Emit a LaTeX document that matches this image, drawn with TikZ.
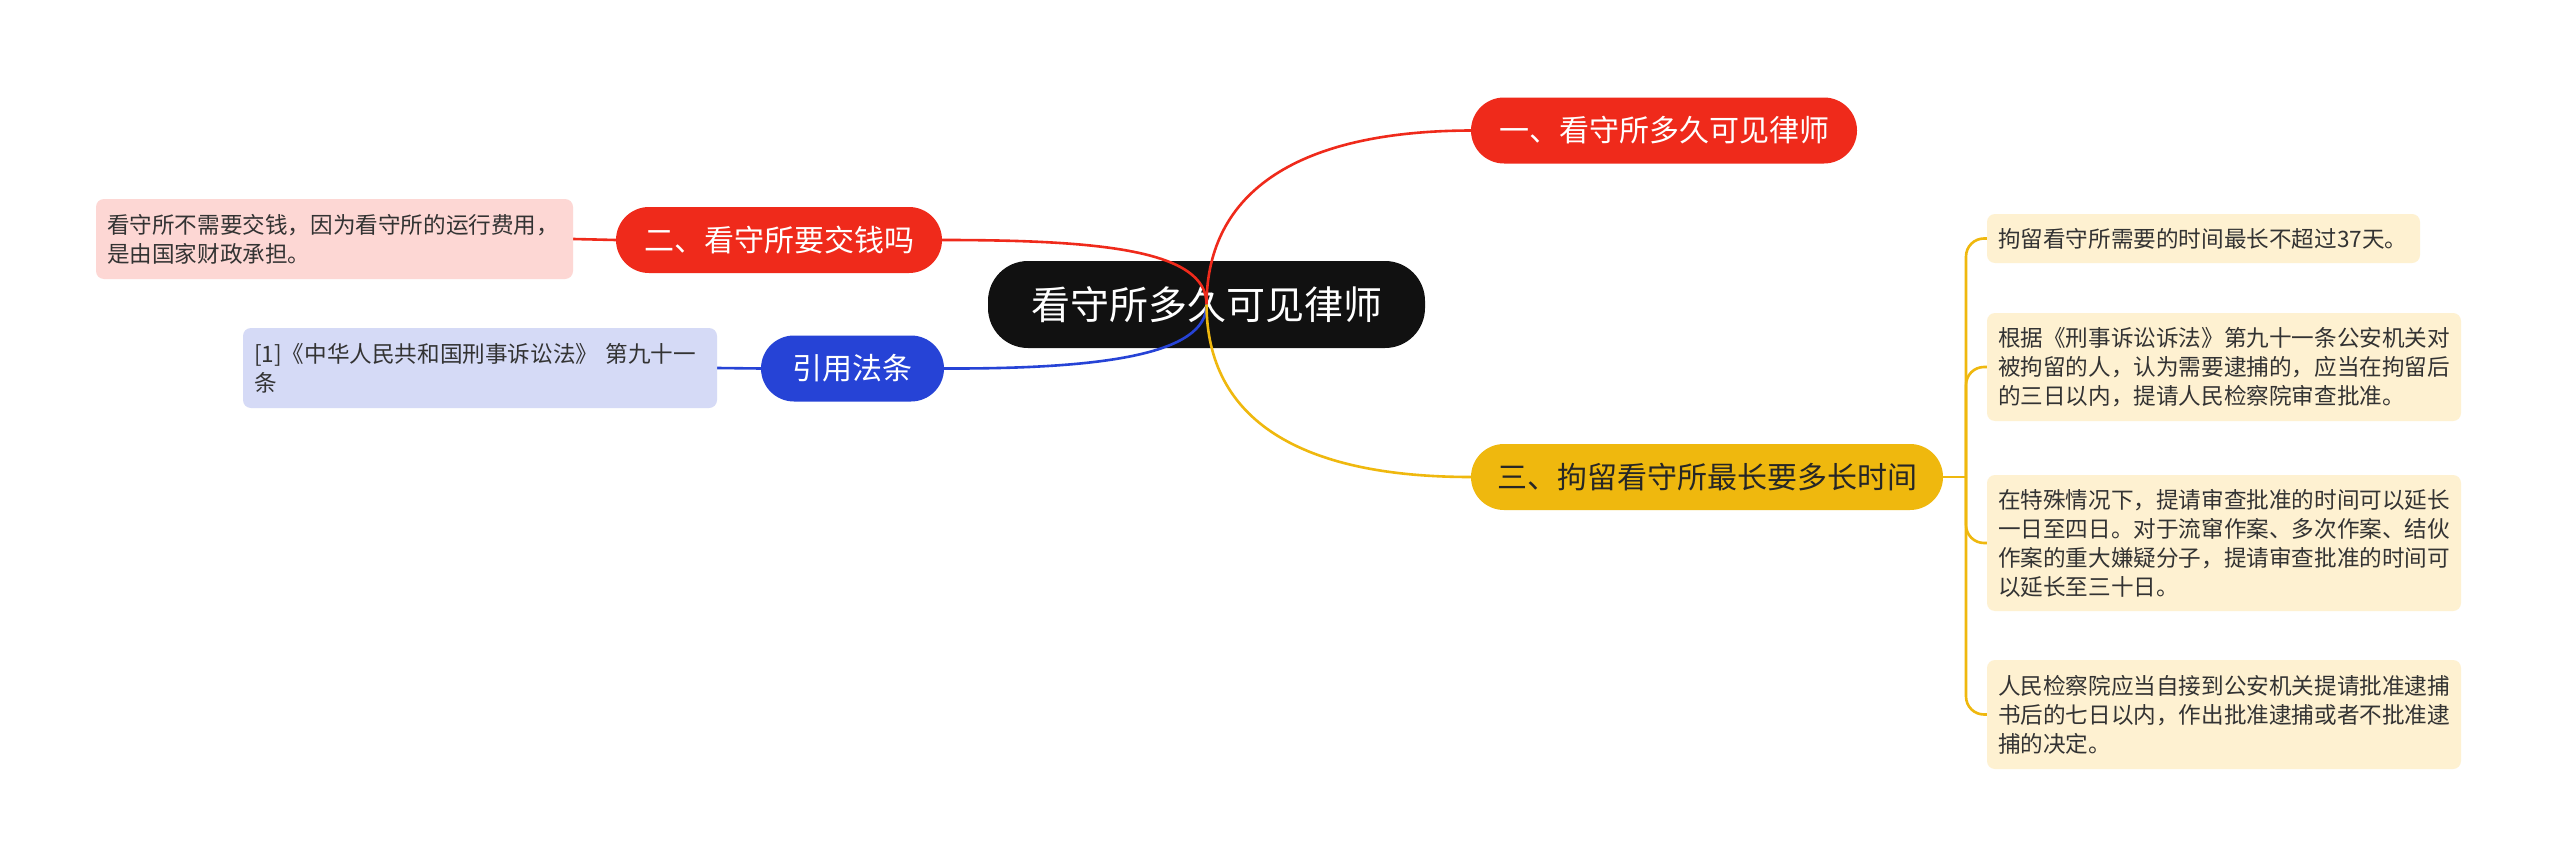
\documentclass[tikz,border=0pt]{standalone}
\usepackage{fontspec}
\setmainfont{Noto Sans CJK SC}
\definecolor{cred}{HTML}{EF2A1B}
\definecolor{cblue}{HTML}{2643D6}
\definecolor{cyel}{HTML}{EFB80E}
\definecolor{cpink}{HTML}{FDD7D4}
\definecolor{clav}{HTML}{D5DAF6}
\definecolor{ccream}{HTML}{FEF1D1}
\definecolor{ctext}{HTML}{333333}
\definecolor{cblack}{HTML}{111111}
\pgfdeclarelayer{bg}\pgfdeclarelayer{edges}
\pgfsetlayers{bg,edges,main}
\begin{document}
\begin{tikzpicture}[x=1pt,y=-1pt,
 root/.style={fill=cblack, text=white, rounded corners=40pt, minimum width=437pt, minimum height=87pt, font=\fontsize{39}{47}\selectfont, inner sep=0pt},
 branch/.style={rounded corners=33pt, minimum height=66pt, font=\fontsize{30}{36}\selectfont, inner sep=0pt},
 leaf/.style={rounded corners=8pt, align=left, font=\fontsize{22.6}{29}\selectfont, text=ctext, inner xsep=11pt, inner ysep=0pt},
 link/.style={line width=2.6pt}
]
\begin{pgfonlayer}{bg}
\fill[white] (0,0) rectangle (2560,867);
\node[root] (root) at (1206.5,304.5) {看守所多久可见律师};
\end{pgfonlayer}
\useasboundingbox (0,0) rectangle (2560,867);

\node[branch, fill=cred, text=white, minimum width=386pt] (b1) at (1664,130.5) {一、看守所多久可见律师};
\node[branch, fill=cred, text=white, minimum width=326pt] (b2) at (779,240) {二、看守所要交钱吗};
\node[branch, fill=cblue, text=white, minimum width=183pt] (b3) at (852.5,368.5) {引用法条};
\node[branch, fill=cyel, text=black!85, minimum width=472pt] (b4) at (1707,477) {三、拘留看守所最长要多长时间};

\node[leaf, fill=cpink, text width=455pt, minimum height=80pt] (l1) at (334.5,239) {看守所不需要交钱，因为看守所的运行费用，\\是由国家财政承担。};
\node[leaf, fill=clav, text width=452pt, minimum height=80pt] (l2) at (480,368) {[1]《中华人民共和国刑事诉讼法》 第九十一\\条};

\node[leaf, fill=ccream, text width=411pt, minimum height=49pt] (r1) at (2203.5,238.5) {拘留看守所需要的时间最长不超过37天。};
\node[leaf, fill=ccream, text width=452pt, minimum height=108pt] (r2) at (2224,367) {根据《刑事诉讼诉法》第九十一条公安机关对\\被拘留的人，认为需要逮捕的，应当在拘留后\\的三日以内，提请人民检察院审查批准。};
\node[leaf, fill=ccream, text width=452pt, minimum height=136pt] (r3) at (2224,543) {在特殊情况下，提请审查批准的时间可以延长\\一日至四日。对于流窜作案、多次作案、结伙\\作案的重大嫌疑分子，提请审查批准的时间可\\以延长至三十日。};
\node[leaf, fill=ccream, text width=452pt, minimum height=109pt] (r4) at (2224,714.5) {人民检察院应当自接到公安机关提请批准逮捕\\书后的七日以内，作出批准逮捕或者不批准逮\\捕的决定。};

\begin{pgfonlayer}{edges}
\draw[link, cred] (root.center) .. controls (1207,190) and (1300,131) .. (b1.west);
\draw[link, cred] (root.center) .. controls (1207,250) and (1100,240) .. (b2.east);
\draw[link, cblue] (root.center) .. controls (1207,355) and (1100,369) .. (b3.east);
\draw[link, cyel] (root.center) .. controls (1207,420) and (1300,477) .. (b4.west);
\draw[link, cred] (b2.west) -- (l1.east);
\draw[link, cblue] (b3.west) -- (l2.east);
\coordinate (t) at (1966,477);
\draw[link, cyel] (b4.east) -- (t);
\draw[link, cyel, rounded corners=18pt] (t) |- (r1.west);
\draw[link, cyel, rounded corners=18pt] (t) |- (r2.west);
\draw[link, cyel, rounded corners=18pt] (t) |- (r3.west);
\draw[link, cyel, rounded corners=18pt] (t) |- (r4.west);
\end{pgfonlayer}
\end{tikzpicture}
\end{document}
